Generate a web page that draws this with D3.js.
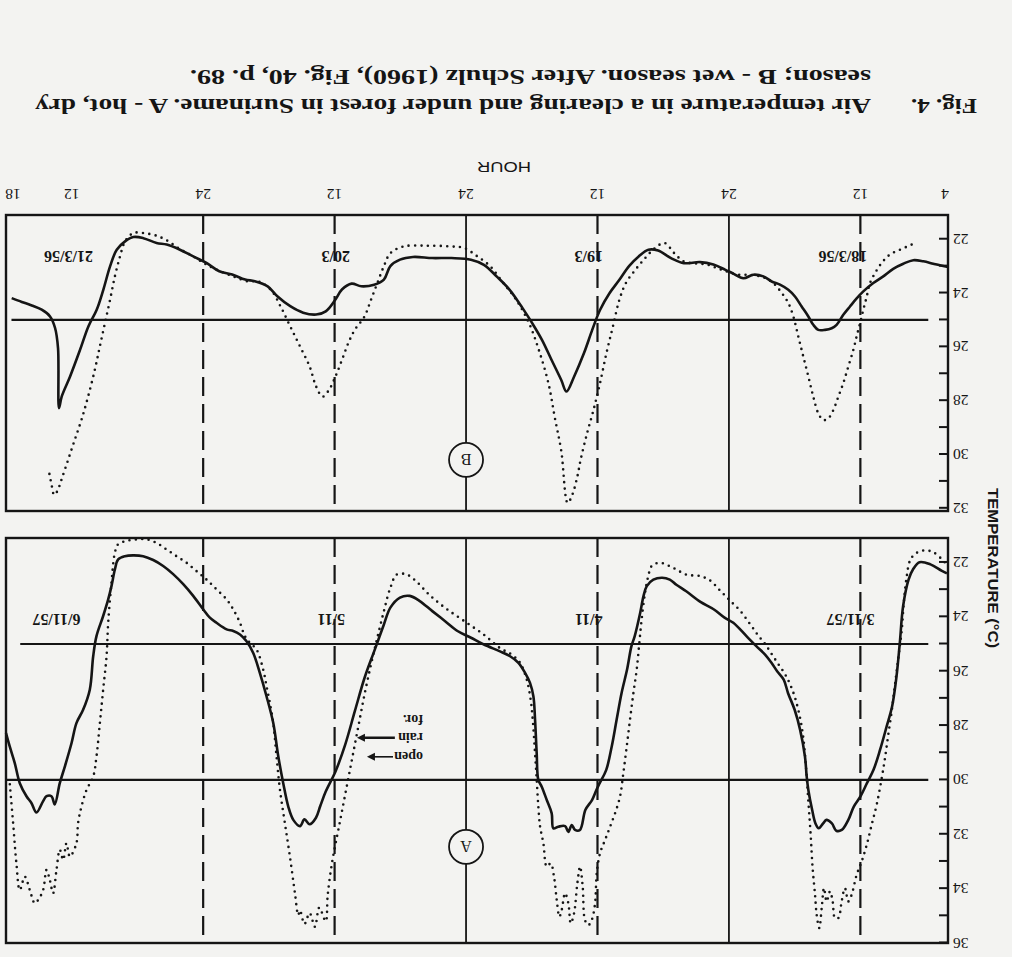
<!DOCTYPE html>
<html>
<head>
<meta charset="utf-8">
<script src="https://cdn.jsdelivr.net/npm/d3@7"></script>
<style>
  html, body { margin: 0; padding: 0; background: #f3f3f1; }
  svg { display: block; }
</style>
</head>
<body>
<svg id="fig" width="1012" height="957"></svg>
<script>
// Hours are counted from midnight before the first day (4 = 04:00 day 1, 90 = 18:00 day 4).
const hourTickPos    = [4, 12, 24, 36, 48, 60, 72, 84, 90];
const hourTickLabels = ["4", "12", "24", "12", "24", "12", "24", "12", "18"];

// vertical guide lines: hour and style
const guideHours  = [12, 24, 36, 48, 60, 72];
const guideDashed = [true, false, true, false, true, true];

const tempTicksA = [22, 23, 24, 25, 26, 27, 28, 29, 30, 31, 32, 33, 34, 35, 36];
const tempTicksB = [22, 23, 24, 25, 26, 27, 28, 29, 30, 31, 32];
const refLinesA = [25, 30];
const refLinesB = [25];

const dateLabelsA = ["3/11/57", "4/11", "5/11", "6/11/57"];
const dateLabelsB = ["18/3/56", "19/3", "20/3", "21/3/56"];
const dateLabelHours = [12.9, 36.8, 60.3, 85.4];
const dateLabelHoursB = [13.6, 36.8, 59.9, 84.3];

// A - hot, dry season: forest (solid) and clearing (dotted), [hour, °C]
const dryForest = [[4.1,22.4],[4.6,22.3],[5.6,22.07],[6.6,21.99],[7.2,22.26],[7.6,22.63],[8.1,23.61],[8.4,24.96],[8.7,26.19],[9.1,27.29],[9.6,28.03],[10.2,28.89],[10.8,29.63],[11.4,30.12],[12.0,30.61],[12.6,30.98],[13.1,31.47],[13.7,31.84],[14.2,31.87],[14.6,31.6],[15.1,31.47],[15.4,31.6],[15.8,31.78],[16.1,31.6],[16.4,31.11],[16.75,30.37],[16.9,29.88],[17.06,29.14],[17.5,28.16],[18.0,27.42],[18.6,26.81],[19.0,26.31],[19.6,26.0],[20.1,25.7],[20.7,25.39],[21.5,25.08],[22.4,24.71],[23.6,24.22],[24.4,24.03],[25.4,23.72],[26.6,23.45],[27.9,23.06],[28.8,22.82],[29.4,22.63],[30.1,22.56],[30.9,22.63],[31.5,22.87],[31.8,23.24],[32.1,23.85],[32.6,24.71],[32.9,25.08],[33.3,25.94],[33.8,26.8],[34.25,27.78],[34.7,28.77],[35.2,29.63],[35.8,30.12],[36.1,30.37],[36.5,30.74],[37.1,31.1],[37.6,31.84],[38.05,31.84],[38.35,31.66],[38.66,31.91],[38.96,31.7],[39.57,31.72],[40.03,31.78],[40.18,31.23],[40.63,30.74],[41.09,30.25],[41.4,30.0],[41.55,29.02],[41.7,27.78],[41.85,26.93],[42.16,26.43],[42.61,26.06],[43.22,25.69],[43.98,25.45],[44.9,25.27],[46.37,25.02],[47.55,24.77],[48.74,24.53],[49.91,24.16],[51.08,23.79],[52.26,23.41],[53.14,23.23],[54.03,23.29],[54.91,23.66],[55.5,24.28],[56.39,25.27],[57.27,26.25],[58.16,27.48],[59.04,28.71],[59.92,29.69],[60.81,30.43],[61.3,30.95],[61.7,31.39],[62.28,31.63],[62.75,31.45],[63.16,31.7],[63.77,31.47],[64.23,30.98],[64.69,30.12],[65.14,29.14],[65.6,27.91],[66.21,26.93],[66.82,26.07],[67.43,25.33],[68.04,24.9],[68.64,24.65],[69.25,24.52],[69.86,24.46],[70.78,24.22],[71.39,24.03],[72.0,23.72],[72.91,23.23],[73.82,22.8],[74.74,22.43],[75.65,22.13],[76.56,21.91],[77.48,21.77],[78.39,21.74],[79.15,21.77],[79.76,21.89],[80.06,22.26],[80.37,22.87],[80.67,23.36],[81.13,23.97],[81.74,24.71],[82.04,25.45],[82.35,26.68],[82.96,27.42],[83.57,27.91],[84.02,28.65],[84.63,29.51],[85.09,30.12],[85.55,30.9],[85.85,30.6],[86.3,30.6],[86.61,30.78],[87.22,31.2],[87.68,30.85],[88.13,30.6],[88.74,30.12],[89.2,29.38],[89.66,28.77],[90.0,28.28]];

const dryOpen = [[4.3,21.99],[5.35,21.62],[6.26,21.56],[7.02,21.69],[7.47,21.93],[7.78,22.55],[8.02,23.41],[8.23,24.52],[8.53,25.5],[8.84,26.49],[9.14,27.47],[9.45,28.33],[9.75,29.19],[10.05,29.93],[10.51,30.91],[10.97,31.65],[11.42,32.39],[11.88,33.0],[12.34,33.49],[12.8,34.23],[13.1,34.47],[13.41,33.98],[13.71,34.47],[14.01,35.08],[14.32,35.08],[14.53,34.47],[14.77,34.1],[15.08,34.47],[15.32,33.98],[15.53,34.71],[15.75,35.45],[15.99,34.96],[16.14,34.22],[16.36,33.24],[16.54,32.01],[16.75,30.78],[16.96,29.55],[17.21,28.45],[17.51,27.71],[17.97,26.97],[18.42,26.48],[18.88,26.11],[19.49,25.74],[20.1,25.37],[20.71,24.99],[21.32,24.69],[22.08,24.26],[22.99,23.77],[23.91,23.4],[24.82,23.03],[25.73,22.66],[26.64,22.5],[27.86,22.45],[29.08,22.2],[30.29,22.01],[31.05,22.13],[31.36,22.5],[31.66,23.12],[31.97,24.1],[32.18,24.96],[32.42,25.94],[32.72,26.8],[33.03,27.78],[33.33,28.77],[33.64,29.75],[33.94,30.61],[34.4,31.23],[34.85,31.72],[35.31,32.21],[35.77,32.7],[36.07,33.44],[36.22,34.54],[36.53,35.16],[36.83,35.34],[37.14,35.16],[37.35,33.93],[37.59,33.19],[37.84,33.81],[38.14,34.91],[38.44,35.28],[38.66,34.54],[38.96,34.17],[39.27,34.79],[39.48,35.03],[39.72,34.42],[39.97,33.56],[40.27,33.07],[40.63,33.19],[40.94,32.33],[41.24,31.72],[41.4,30.98],[41.55,29.99],[41.7,29.02],[41.91,27.79],[42.1,27.05],[42.46,26.31],[43.07,25.69],[43.83,25.39],[44.9,25.15],[46.37,24.66],[48.15,24.16],[49.91,23.67],[51.38,23.18],[52.56,22.69],[53.44,22.44],[54.32,22.44],[54.91,22.93],[55.5,23.79],[56.1,24.77],[56.68,25.76],[57.27,26.86],[57.86,28.09],[58.45,29.32],[59.04,30.55],[59.63,31.78],[60.22,33.01],[60.63,34.24],[60.81,35.2],[61.4,34.7],[61.8,35.4],[62.28,34.9],[62.75,35.3],[63.16,34.8],[63.32,34.97],[63.62,34.17],[64.08,32.82],[64.54,31.59],[64.99,30.36],[65.3,29.14],[65.6,27.91],[65.91,27.17],[66.21,26.56],[66.52,25.94],[67.13,25.2],[67.73,24.96],[68.19,24.71],[68.64,24.22],[69.25,23.73],[69.86,23.36],[70.78,22.99],[71.69,22.63],[72.6,22.32],[73.52,22.01],[74.43,21.77],[75.35,21.52],[76.26,21.28],[77.17,21.15],[78.09,21.15],[79.0,21.21],[79.76,21.33],[80.06,21.64],[80.37,22.75],[80.67,24.22],[80.82,25.45],[81.13,26.68],[81.43,27.91],[81.74,29.14],[82.04,29.88],[82.65,30.37],[83.11,30.98],[83.42,31.59],[83.57,32.33],[84.17,32.82],[84.48,32.33],[84.78,32.94],[85.09,32.57],[85.39,33.31],[85.7,34.17],[86.0,33.68],[86.3,33.31],[86.61,34.05],[87.07,34.42],[87.37,34.54],[87.83,34.05],[88.28,33.56],[88.74,34.05],[89.05,33.07],[89.35,31.59],[89.66,30.12]];

// B - wet season: forest (solid) and clearing (dotted), [hour, °C]
const wetForest = [[4.0,23.03],[4.74,22.97],[5.35,22.91],[6.26,22.82],[7.17,22.78],[8.08,22.91],[9.0,23.1],[9.91,23.38],[10.82,23.63],[11.73,23.94],[12.34,24.2],[12.95,24.5],[13.56,24.81],[14.17,25.18],[14.62,25.31],[15.23,25.37],[15.84,25.37],[16.3,25.18],[16.75,24.87],[17.36,24.5],[17.97,24.13],[18.58,23.88],[19.34,23.69],[20.1,23.57],[20.86,23.38],[21.77,23.32],[22.68,23.45],[23.6,23.28],[24.36,23.13],[25.42,22.94],[26.64,22.85],[28.11,22.89],[29.29,22.7],[30.47,22.42],[31.35,22.39],[32.24,22.64],[33.12,23.0],[34.0,23.51],[34.89,24.0],[35.77,24.63],[36.48,25.37],[37.24,26.24],[38.13,27.1],[38.83,27.66],[39.31,27.23],[40.19,26.49],[41.07,25.74],[41.96,25.12],[42.84,24.56],[44.02,23.88],[45.19,23.39],[46.37,22.95],[47.55,22.76],[49.32,22.7],[51.08,22.7],[52.85,22.66],[54.03,22.76],[54.91,23.0],[55.5,23.5],[56.39,23.69],[57.57,23.75],[58.45,23.65],[59.33,23.87],[59.92,24.24],[60.81,24.68],[61.69,24.8],[62.87,24.73],[64.05,24.49],[65.23,24.12],[66.11,23.75],[67.29,23.56],[68.17,23.5],[69.35,23.31],[70.53,23.19],[71.7,22.88],[72.9,22.64],[74.12,22.39],[75.33,22.2],[76.25,22.14],[77.46,21.96],[78.37,21.92],[79.13,22.08],[79.89,22.39],[80.5,23.01],[81.11,23.87],[81.72,24.62],[82.48,25.24],[83.24,26.11],[84.15,27.1],[84.91,27.84],[85.16,28.28],[85.25,26.05],[85.52,25.3],[85.98,24.87],[86.74,24.62],[87.65,24.46],[88.56,24.33],[89.48,24.19]];

const wetOpen = [[7.32,22.2],[8.38,22.39],[9.3,22.57],[10.05,22.88],[10.66,23.26],[11.12,23.63],[11.42,24.13],[11.73,24.62],[12.03,25.12],[12.34,25.61],[12.64,26.11],[13.1,26.73],[13.56,27.35],[14.01,27.85],[14.47,28.35],[14.93,28.66],[15.38,28.72],[15.84,28.47],[16.3,27.85],[16.75,27.1],[17.21,26.36],[17.67,25.61],[18.12,24.87],[18.58,24.37],[19.19,23.99],[19.95,23.63],[20.71,23.44],[21.47,23.35],[22.38,23.32],[23.14,23.32],[24.2,23.2],[25.12,23.07],[26.03,22.94],[27.0,22.9],[28.11,22.83],[28.99,22.52],[29.88,22.14],[30.76,22.33],[31.65,22.7],[32.53,23.13],[33.41,23.63],[34.0,24.25],[34.59,25.24],[35.18,26.23],[35.77,27.35],[36.36,28.34],[36.95,29.21],[37.54,30.2],[37.84,30.82],[38.3,31.5],[38.72,31.8],[39.31,29.86],[39.9,28.62],[40.48,27.35],[41.36,26.11],[42.25,25.12],[43.42,24.25],[44.6,23.63],[45.78,23.01],[46.96,22.64],[48.15,22.33],[49.32,22.27],[51.67,22.24],[53.73,22.27],[54.91,22.52],[55.5,23.0],[56.1,23.63],[56.68,24.25],[57.27,24.87],[58.16,25.37],[58.75,25.86],[59.33,26.49],[59.92,27.1],[60.51,27.6],[61.1,27.85],[61.69,27.47],[62.28,26.73],[63.16,25.98],[64.05,25.24],[64.93,24.5],[65.82,23.88],[67.0,23.56],[67.88,23.57],[69.25,23.38],[70.78,23.13],[71.84,22.91],[72.9,22.64],[74.12,22.37],[75.33,22.04],[76.25,21.87],[77.46,21.77],[78.37,21.77],[79.13,22.08],[79.59,22.64],[80.06,23.38],[80.5,24.25],[80.97,25.12],[81.43,25.98],[81.89,26.85],[82.5,27.84],[83.11,28.71],[83.72,29.45],[84.33,30.2],[84.94,30.94],[85.3,31.35],[85.6,31.5],[85.85,31.1],[86.07,30.65]];

const titleLine1Lead = "Fig. 4.";
const titleLine1 = "Air temperature in a clearing and under forest in Suriname. A - hot, dry";
const titleLine2 = "season; B - wet season. After Schulz (1960), Fig. 40, p. 89.";

const INK = "#151515";
const PAPER = "#f3f3f1";
const serif = "'Liberation Serif', 'Times New Roman', serif";
const sans = "'Liberation Sans', Arial, sans-serif";

const svg = d3.select("#fig");
svg.append("rect").attr("width", 1012).attr("height", 957).attr("fill", PAPER);

// the printed page sits upside down on the scan
const page = svg.append("g").attr("transform", "rotate(180,506,478.5)");

const x = d3.scaleLinear().domain([4, 90]).range([64, 1006]);
const yA = d3.scaleLinear().domain([21.1, 36]).range([419, 14]);
const yB = d3.scaleLinear().domain([21.1, 32.1]).range([742, 446]);

function drawPanel(y, ticks, refLines, forest, open, labels, labelHours, labelTemp, circleTemp, letter, lineEnd) {
  const g = page.append("g");
  const [t0, t1] = x.domain();
  const [T0, T1] = y.domain();

  // reference temperature lines
  refLines.forEach((T, i) => {
    g.append("line")
      .attr("x1", x(5.8)).attr("x2", x(lineEnd[i]))
      .attr("y1", y(T)).attr("y2", y(T))
      .attr("stroke", INK).attr("stroke-width", 2.2);
  });

  // vertical hour guides
  guideHours.forEach((h, i) => {
    g.append("line")
      .attr("x1", x(h)).attr("x2", x(h))
      .attr("y1", y(T0)).attr("y2", y(T1))
      .attr("stroke", INK)
      .attr("stroke-width", guideDashed[i] ? 2.2 : 1.8)
      .attr("stroke-dasharray", guideDashed[i] ? "19 8" : null);
  });

  const line = d3.line()
    .x(d => x(d[0])).y(d => y(d[1]))
    .curve(d3.curveCatmullRom.alpha(0.5));

  g.append("path").datum(open)
    .attr("d", line).attr("fill", "none")
    .attr("stroke", INK).attr("stroke-width", 2.6)
    .attr("stroke-linecap", "round")
    .attr("stroke-dasharray", "0 6.4");

  g.append("path").datum(forest)
    .attr("d", line).attr("fill", "none")
    .attr("stroke", INK).attr("stroke-width", 2.6)
    .attr("stroke-linejoin", "round");

  // circled panel letter on the midnight line
  g.append("circle")
    .attr("cx", x(48)).attr("cy", y(circleTemp)).attr("r", 17)
    .attr("fill", PAPER).attr("stroke", INK).attr("stroke-width", 1.8);
  g.append("text")
    .attr("x", x(48)).attr("y", y(circleTemp)).attr("dy", "0.35em")
    .attr("text-anchor", "middle")
    .attr("font-family", serif).attr("font-size", 16).attr("fill", INK)
    .text(letter);

  // frame
  g.append("rect")
    .attr("x", x(t0)).attr("y", y(T1))
    .attr("width", x(t1) - x(t0)).attr("height", y(T0) - y(T1))
    .attr("fill", "none").attr("stroke", INK).attr("stroke-width", 2.4);

  // temperature axis: ticks point into the plot
  const axis = d3.axisLeft(y)
    .tickValues(ticks)
    .tickSizeInner(-9).tickSizeOuter(0).tickPadding(5)
    .tickFormat(d => d % 2 === 0 ? d : "");
  const ag = g.append("g").attr("transform", `translate(${x(t0)},0)`).call(axis);
  ag.select(".domain").remove();
  ag.selectAll(".tick line").attr("stroke", INK).attr("stroke-width", 2);
  ag.selectAll(".tick text")
    .attr("font-family", serif).attr("font-size", 15.5).attr("fill", INK);

  // day labels
  labels.forEach((s, i) => {
    g.append("text")
      .attr("x", x(labelHours[i])).attr("y", y(labelTemp)).attr("dy", "0.35em")
      .attr("text-anchor", "middle")
      .attr("font-family", serif).attr("font-weight", "bold")
      .attr("font-size", 16).attr("fill", INK)
      .text(s);
  });
  return g;
}

drawPanel(yA, tempTicksA, refLinesA, dryForest, dryOpen, dateLabelsA, dateLabelHours, 24.1, 32.46, "A", [88.7, 90]);
drawPanel(yB, tempTicksB, refLinesB, wetForest, wetOpen, dateLabelsB, dateLabelHoursB, 22.65, 30.2, "B", [89.5]);

// legend: clearing / rain forest
const legend = page.append("g")
  .attr("font-family", serif).attr("font-weight", "bold")
  .attr("font-size", 14).attr("fill", INK);
const legendRows = [["open", 29.15], ["rain", 28.45], ["for.", 27.79]];
legendRows.forEach(([s, T]) => {
  legend.append("text").attr("x", x(51.93)).attr("y", yA(T)).attr("dy", "0.35em").text(s);
});
function arrow(tStart, tEnd, T, w) {
  const yy = yA(T);
  legend.append("line")
    .attr("x1", x(tStart)).attr("x2", x(tEnd) - 6)
    .attr("y1", yy).attr("y2", yy)
    .attr("stroke", INK).attr("stroke-width", w);
  legend.append("path")
    .attr("d", `M${x(tEnd)},${yy} L${x(tEnd) - 8},${yy - 4} L${x(tEnd) - 8},${yy + 4} Z`)
    .attr("fill", INK);
}
arrow(54.67, 57.05, 29.15, 1.6);
arrow(54.5, 57.96, 28.45, 2.6);

// hour axis labels under panel B
const hourAxis = page.append("g")
  .attr("font-family", serif).attr("font-size", 15.5).attr("fill", INK);
hourTickPos.forEach((h, i) => {
  hourAxis.append("text")
    .attr("x", h === 90 ? x(h) - 7 : x(h) + (h === 4 ? 3 : 0))
    .attr("y", 768)
    .attr("text-anchor", "middle")
    .text(hourTickLabels[i]);
});
page.append("text")
  .attr("x", 508).attr("y", 795)
  .attr("text-anchor", "middle")
  .attr("font-family", sans).attr("font-size", 15).attr("fill", INK)
  .attr("textLength", 54).attr("lengthAdjust", "spacingAndGlyphs")
  .text("HOUR");

page.append("text")
  .attr("transform", "translate(24,389) rotate(-90)")
  .attr("text-anchor", "middle")
  .attr("font-family", sans).attr("font-weight", "bold")
  .attr("font-size", 14).attr("fill", INK)
  .attr("textLength", 160).attr("lengthAdjust", "spacingAndGlyphs")
  .text("TEMPERATURE (°C)");

// caption
const cap = page.append("g")
  .attr("font-family", serif).attr("font-weight", "bold")
  .attr("font-size", 20).attr("fill", INK);
cap.append("text").attr("x", 35).attr("y", 858)
  .attr("textLength", 66).attr("lengthAdjust", "spacingAndGlyphs")
  .text(titleLine1Lead);
cap.append("text").attr("x", 141).attr("y", 858)
  .attr("textLength", 836).attr("lengthAdjust", "spacingAndGlyphs")
  .text(titleLine1);
cap.append("text").attr("x", 141).attr("y", 887)
  .attr("textLength", 681).attr("lengthAdjust", "spacingAndGlyphs")
  .text(titleLine2);
</script>
</body>
</html>
